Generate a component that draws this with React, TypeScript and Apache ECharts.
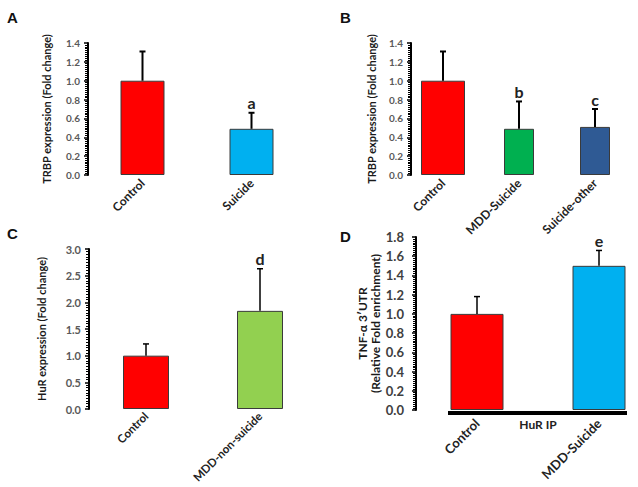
import React, { useEffect, useRef } from "react";
import * as echarts from "echarts";

// Panel A
const catA = ["Control", "Suicide"];
const valA = [1.0, 0.49];
const errA = [0.31, 0.17];
const sigA = ["", "a"];
// Panel B
const catB = ["Control", "MDD-Suicide", "Suicide-other"];
const valB = [1.0, 0.49, 0.51];
const errB = [0.31, 0.29, 0.19];
const sigB = ["", "b", "c"];
// Panel C
const catC = ["Control", "MDD-non-suicide"];
const valC = [1.0, 1.84];
const errC = [0.22, 0.79];
const sigC = ["", "d"];
// Panel D
const catD = ["Control", "MDD-Suicide"];
const valD = [1.0, 1.5];
const errD = [0.18, 0.16];
const sigD = ["", "e"];

const colA = ["#FF0000", "#00B0F0"];
const colB = ["#FF0000", "#00B050", "#2F5A94"];
const colC = ["#FF0000", "#92D050"];
const colD = ["#FF0000", "#00B0F0"];

const FONT = "Lato";

function barData(vals: number[], cols: string[], keep?: (i: number) => boolean) {
  return vals.map((v, i) =>
    keep && !keep(i)
      ? "-"
      : { value: v, itemStyle: { color: cols[i], borderColor: "#3a3a3a", borderWidth: 1 } }
  );
}

function errSeries(xi: number, yi: number, vals: number[], errs: number[], sig: string[], lw: number) {
  return {
    type: "custom",
    xAxisIndex: xi,
    yAxisIndex: yi,
    z: 5,
    clip: false,
    data: vals.map((v, i) => [i, v, errs[i]]),
    renderItem: (params: any, api: any) => {
      const x = api.value(0);
      const v = api.value(1);
      const e = api.value(2);
      const p0 = api.coord([x, v]);
      const p1 = api.coord([x, v + e]);
      const children: any[] = [
        { type: "line", shape: { x1: p0[0], y1: p0[1], x2: p1[0], y2: p1[1] }, style: { stroke: "#000", lineWidth: lw } },
        { type: "line", shape: { x1: p1[0] - 3, y1: p1[1], x2: p1[0] + 3, y2: p1[1] }, style: { stroke: "#000", lineWidth: lw } },
      ];
      const s = sig[params.dataIndex];
      if (s) {
        children.push({
          type: "text",
          x: p1[0],
          y: p1[1] - 2,
          style: { text: s, textAlign: "center", textVerticalAlign: "bottom", font: `bold 16px ${FONT}`, fill: "#222" },
        });
      }
      return { type: "group", children };
    },
  };
}

function yAx(gi: number, max: number, interval: number, name: string, nameGap: number, nameSize: number, lineH: number, labelSize: number, labelColor: string, labelMargin: number, extra: any = {}) {
  return {
    type: "value",
    gridIndex: gi,
    min: 0,
    max,
    interval,
    splitNumber: 10,
    name,
    nameLocation: "middle",
    nameGap,
    nameTextStyle: { fontFamily: FONT, fontWeight: "bold", fontSize: nameSize, color: "#1a1a1a", lineHeight: lineH },
    axisLine: { show: true, lineStyle: { color: "#000", width: 2 } },
    axisTick: { show: true, length: 4, lineStyle: { color: "#000", width: 1.5 } },
    minorTick: { show: true, splitNumber: 10, length: 3, lineStyle: { color: "#000", width: 1 } },
    splitLine: { show: false },
    axisLabel: {
      fontFamily: FONT,
      fontWeight: "bold",
      fontSize: labelSize,
      color: labelColor,
      margin: labelMargin,
      formatter: (v: number) => v.toFixed(1),
    },
    ...extra,
  };
}

function xAx(gi: number, cats: string[], size: number, margin: number, show = true, extra: any = {}) {
  return {
    type: "category",
    gridIndex: gi,
    data: cats,
    show,
    axisLine: { show: false },
    axisTick: { show: false },
    axisLabel: { rotate: 45, fontFamily: FONT, fontWeight: "bold", fontSize: size, color: "#222", margin, interval: 0 },
    ...extra,
  };
}

export default function App() {
  const ref = useRef<HTMLDivElement>(null);
  useEffect(() => {
    document.body.style.margin = "0";
    const chart = echarts.init(ref.current!, null, { renderer: "svg" });
    const g = { outerBoundsMode: "none", containLabel: false };
    const option: any = {
      animation: false,
      backgroundColor: "#fff",
      grid: [
        { left: 88, top: 43, width: 218, height: 132, ...g },
        { left: 405, top: 43, width: 228, height: 132, ...g },
        { left: 89, top: 249, width: 228, height: 160, ...g },
        { left: 477, top: 237, width: 122, height: 173, ...g },
      ],
      xAxis: [
        xAx(0, catA, 12, 6),
        xAx(1, catB, 12, 6),
        xAx(1, catB, 12, 6, false),
        xAx(2, catC, 11.5, 5),
        xAx(3, catD, 13, 11, true, { boundaryGap: false }),
      ],
      yAxis: [
        yAx(0, 1.4, 0.2, "TRBP expression (Fold change)", 35, 11, 13, 10, "#595959", 8),
        yAx(1, 1.4, 0.2, "TRBP expression (Fold change)", 33, 11, 13, 10, "#595959", 8, { offset: -6 }),
        yAx(2, 3.0, 0.5, "HuR expression (Fold change)", 41, 11, 13, 11, "#595959", 8),
        yAx(3, 1.8, 0.2, "TNF-α 3′UTR\n(Relative Fold enrichment)", 34, 12, 13, 13, "#404040", 12, { offset: 61 }),
      ],
      graphic: [
        { type: "text", left: 7, top: 10, style: { text: "A", font: "bold 15px Liberation Sans", fill: "#111" } },
        { type: "text", left: 340, top: 10, style: { text: "B", font: "bold 15px Liberation Sans", fill: "#111" } },
        { type: "text", left: 7, top: 226, style: { text: "C", font: "bold 15px Liberation Sans", fill: "#111" } },
        { type: "text", left: 340, top: 229, style: { text: "D", font: "bold 15px Liberation Sans", fill: "#111" } },
        { type: "line", shape: { x1: 448, y1: 413, x2: 627, y2: 413 }, style: { stroke: "#000", lineWidth: 4 } },
        { type: "text", x: 538, y: 424, style: { text: "HuR IP", textAlign: "center", textVerticalAlign: "middle", font: `bold 12px ${FONT}`, fill: "#222" } },
      ],
      series: [
        { type: "bar", xAxisIndex: 0, yAxisIndex: 0, barWidth: 44, data: barData(valA, colA) },
        errSeries(0, 0, valA, errA, sigA, 2),
        { type: "bar", xAxisIndex: 1, yAxisIndex: 1, barWidth: 44, data: barData(valB, colB, (i) => i === 0) },
        { type: "bar", xAxisIndex: 2, yAxisIndex: 1, barWidth: 30, data: barData(valB, colB, (i) => i !== 0) },
        errSeries(1, 1, valB, errB, sigB, 2),
        { type: "bar", xAxisIndex: 3, yAxisIndex: 2, barWidth: 46, data: barData(valC, colC) },
        errSeries(3, 2, valC, errC, sigC, 1.5),
        { type: "bar", xAxisIndex: 4, yAxisIndex: 3, barWidth: 53, data: barData(valD, colD) },
        errSeries(4, 3, valD, errD, sigD, 1.5),
      ],
    };
    chart.setOption(option);
    return () => chart.dispose();
  }, []);
  return <div ref={ref} style={{ width: 638, height: 487 }} />;
}
